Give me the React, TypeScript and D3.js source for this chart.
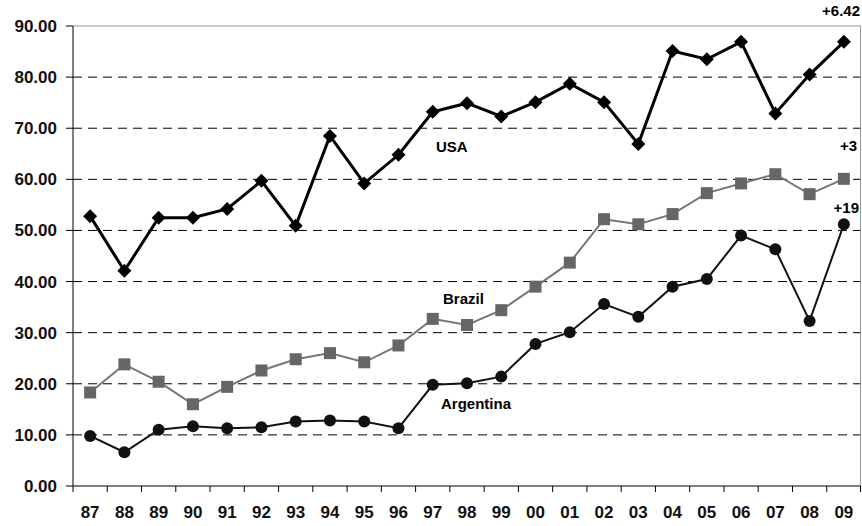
import React from 'react';
import * as d3 from 'd3';

const years = ['87', '88', '89', '90', '91', '92', '93', '94', '95', '96', '97', '98', '99', '00', '01', '02', '03', '04', '05', '06', '07', '08', '09'];

const usa = [52.8, 42.1, 52.5, 52.5, 54.2, 59.7, 50.9, 68.5, 59.2, 64.8, 73.2, 74.9, 72.3, 75.1, 78.7, 75.1, 66.9, 85.1, 83.5, 86.9, 72.9, 80.5, 86.9];
const brazil = [18.3, 23.8, 20.4, 16.0, 19.4, 22.6, 24.8, 26.0, 24.2, 27.5, 32.7, 31.5, 34.4, 39.0, 43.7, 52.2, 51.2, 53.2, 57.3, 59.2, 61.0, 57.1, 60.1];
const argentina = [9.8, 6.6, 11.0, 11.7, 11.3, 11.5, 12.6, 12.8, 12.6, 11.3, 19.8, 20.1, 21.4, 27.8, 30.1, 35.6, 33.1, 39.0, 40.5, 49.0, 46.3, 32.3, 51.2];

const yTicks = [0, 10, 20, 30, 40, 50, 60, 70, 80, 90];

const width = 862;
const height = 526;
const margin = { top: 26, right: 1, bottom: 40, left: 73 };

const font = '"Liberation Sans", Arial, sans-serif';

const App: React.FC = () => {
  const x = d3.scaleBand<string>()
    .domain(years)
    .range([margin.left, width - margin.right]);

  const y = d3.scaleLinear()
    .domain([0, 90])
    .range([height - margin.bottom, margin.top]);

  const cx = (i: number) => (x(years[i]) as number) + x.bandwidth() / 2;

  const line = d3.line<number>()
    .x((d, i) => cx(i))
    .y(d => y(d));

  const diamond = (px: number, py: number, r: number) =>
    `M${px},${py - r}L${px + r},${py}L${px},${py + r}L${px - r},${py}Z`;

  const bottom = y(0);

  return (
    <svg width={width} height={height} style={{ position: 'absolute', left: 0, top: 0, background: '#fff' }}>
      {/* grid */}
      {yTicks.filter(t => t > 0 && t < 90).map(t => (
        <line key={t} x1={margin.left} x2={width - margin.right} y1={y(t)} y2={y(t)}
          stroke="#000" strokeWidth={1} strokeDasharray="9,6" />
      ))}
      <line x1={margin.left} x2={width - margin.right} y1={y(90)} y2={y(90)} stroke="#999" strokeWidth={1} />
      <line x1={width - margin.right - 0.5} x2={width - margin.right - 0.5} y1={y(90)} y2={bottom} stroke="#999" strokeWidth={1} />

      {/* axes */}
      <line x1={margin.left} x2={margin.left} y1={y(90)} y2={bottom} stroke="#000" strokeWidth={1} />
      <line x1={margin.left} x2={width - margin.right} y1={bottom} y2={bottom} stroke="#000" strokeWidth={1} />
      {yTicks.map(t => (
        <g key={t}>
          <line x1={margin.left - 7} x2={margin.left} y1={y(t)} y2={y(t)} stroke="#000" />
          <text x={57} y={y(t)} dy="0.35em" textAnchor="end" fontFamily={font} fontWeight="bold" fontSize={17} fill="#111">
            {d3.format('.2f')(t)}
          </text>
        </g>
      ))}
      {years.map((yr, i) => (
        <g key={yr}>
          <line x1={(x(yr) as number)} x2={(x(yr) as number)} y1={bottom} y2={bottom + 6} stroke="#000" />
          <text x={cx(i)} y={512} dy="0.35em" textAnchor="middle" fontFamily={font} fontWeight="bold" fontSize={17} fill="#111">
            {yr}
          </text>
        </g>
      ))}
      <line x1={width - margin.right - 0.5} x2={width - margin.right - 0.5} y1={bottom} y2={bottom + 6} stroke="#000" />

      {/* Brazil */}
      <path d={line(brazil) || ''} fill="none" stroke="#777" strokeWidth={2} />
      {brazil.map((v, i) => (
        <rect key={i} x={cx(i) - 6} y={y(v) - 6} width={12} height={12} fill="#666" />
      ))}

      {/* Argentina */}
      <path d={line(argentina) || ''} fill="none" stroke="#111" strokeWidth={2} />
      {argentina.map((v, i) => (
        <circle key={i} cx={cx(i)} cy={y(v)} r={6} fill="#111" />
      ))}

      {/* USA */}
      <path d={line(usa) || ''} fill="none" stroke="#000" strokeWidth={3} />
      {usa.map((v, i) => (
        <path key={i} d={diamond(cx(i), y(v), 7)} fill="#000" />
      ))}

      {/* labels */}
      <text x={436} y={147} dy="0.35em" fontFamily={font} fontWeight="bold" fontSize={15} fill="#000">USA</text>
      <text x={443} y={299} dy="0.35em" fontFamily={font} fontWeight="bold" fontSize={15} fill="#000">Brazil</text>
      <text x={441} y={404} dy="0.35em" fontFamily={font} fontWeight="bold" fontSize={15} fill="#000">Argentina</text>

      <text x={860} y={11} dy="0.35em" textAnchor="end" fontFamily={font} fontWeight="bold" fontSize={15} fill="#000">+6.42</text>
      <text x={857} y={146} dy="0.35em" textAnchor="end" fontFamily={font} fontWeight="bold" fontSize={15} fill="#000">+3</text>
      <text x={859} y={208} dy="0.35em" textAnchor="end" fontFamily={font} fontWeight="bold" fontSize={15} fill="#000">+19</text>
    </svg>
  );
};

export default App;
